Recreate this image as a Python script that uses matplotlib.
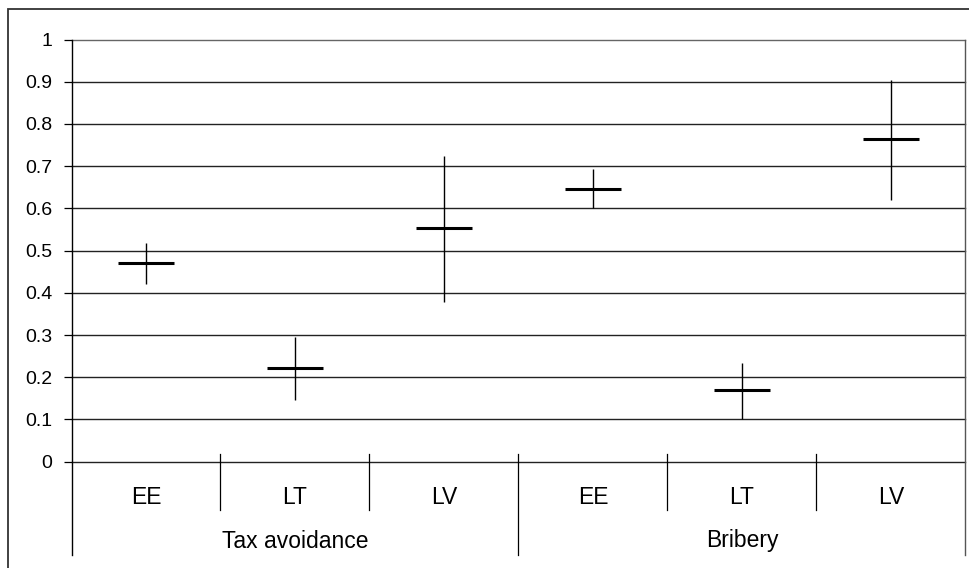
import matplotlib
matplotlib.use("Agg")
import matplotlib.pyplot as plt
from matplotlib.patches import Rectangle
import numpy as np

plt.rcParams['font.family'] = ['Liberation Sans', 'DejaVu Sans']

countries = ["EE", "LT", "LV", "EE", "LT", "LV"]
groups = ["Tax avoidance", "Bribery"]
means = [0.471, 0.222, 0.554, 0.646, 0.171, 0.764]
lows = [0.420, 0.146, 0.379, 0.600, 0.100, 0.621]
highs = [0.517, 0.296, 0.724, 0.693, 0.234, 0.904]
yticks = [0, 0.1, 0.2, 0.3, 0.4, 0.5, 0.6, 0.7, 0.8, 0.9, 1]
ytick_labels = ["0", "0.1", "0.2", "0.3", "0.4", "0.5", "0.6", "0.7", "0.8", "0.9", "1"]

W, H = 970, 568
fig = plt.figure(figsize=(W / 100, H / 100), dpi=100)
fig.patch.set_facecolor("white")

# outer chart frame
fig.patches.append(Rectangle((8 / W, -0.1), 1.2, 1 - 9 / H + 0.1, transform=fig.transFigure,
                             fill=False, edgecolor="#333333", linewidth=1.3, clip_on=False))

left_px, right_px, top_px, bot_px = 71.5, 965.5, 39.5, 461.7
ax = fig.add_axes([left_px / W, (H - bot_px) / H, (right_px - left_px) / W, (bot_px - top_px) / H])
ax.set_xlim(-0.5, 5.5)
ax.set_ylim(0, 1)
for s in ax.spines.values():
    s.set_visible(False)

# gridlines
for t in yticks:
    col = "#666666" if t == 1 else "#222222"
    ax.axhline(t, color=col, linewidth=1.0, zorder=1, clip_on=False)

x = np.arange(len(countries))
ax.vlines(x, lows, highs, color="black", linewidth=1.0, zorder=3)
ax.hlines(means, x - 0.19, x + 0.19, color="black", linewidth=2.2, zorder=4)

ax.set_yticks(yticks)
ax.set_yticklabels(ytick_labels, fontsize=14)
ax.tick_params(axis="y", direction="out", length=6, width=0.9, pad=8, colors="black")
ax.set_xticks([])

tr = ax.get_xaxis_transform()
ph = bot_px - top_px
def yfrac(py):
    return (bot_px - py) / ph

# left axis line extended down
ax.plot([-0.5, -0.5], [1, yfrac(555)], transform=tr, color="black", linewidth=1.0, clip_on=False)
# right plot border
ax.plot([5.5, 5.5], [1, yfrac(555)], transform=tr, color="#555555", linewidth=1.0, clip_on=False)
# category dividers
for xb in [0.5, 1.5, 3.5, 4.5]:
    ax.plot([xb, xb], [yfrac(454), yfrac(510)], transform=tr, color="black", linewidth=0.9, clip_on=False)
ax.plot([2.5, 2.5], [yfrac(454), yfrac(555)], transform=tr, color="black", linewidth=0.9, clip_on=False)

for xi, lab in zip(x, countries):
    ax.text(xi, yfrac(497), lab, transform=tr, ha="center", va="center", fontsize=16.5)
for gi, g in enumerate(groups):
    ax.text(1 + 3 * gi, yfrac(541), g, transform=tr, ha="center", va="center", fontsize=16.5)

fig.savefig("out.png", dpi=100, facecolor="white")
